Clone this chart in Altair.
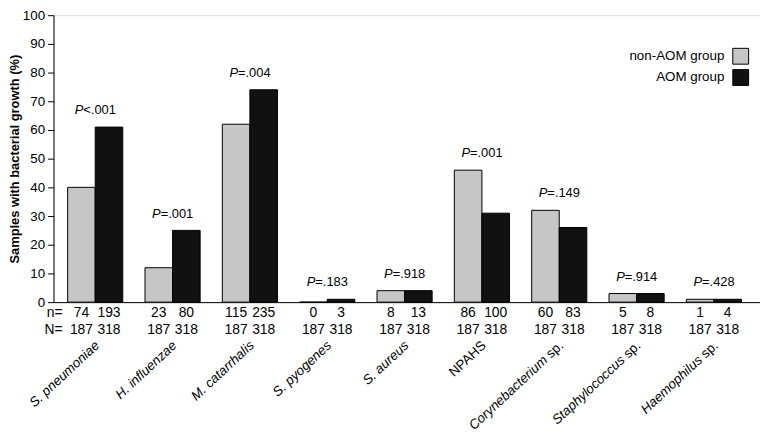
import altair as alt
import pandas as pd

# ---- data ----
main_labels = ["S. pneumoniae", "H. influenzae", "M. catarrhalis", "S. pyogenes",
               "S. aureus", "NPAHS", "Corynebacterium", "Staphylococcus", "Haemophilus"]
suffixes = ["", "", "", "", "", "", " sp.", " sp.", " sp."]
italic_main = [True, True, True, True, True, False, True, True, True]
groups = ["non-AOM group", "AOM group"]
pct_non_aom = [40, 12, 62, 0, 4, 46, 32, 3, 1]
pct_aom = [61, 25, 74, 1, 4, 31, 26, 3, 1]
n_non_aom = [74, 23, 115, 0, 8, 86, 60, 5, 1]
n_aom = [193, 80, 235, 3, 13, 100, 83, 8, 4]
N_non_aom = 187
N_aom = 318
p_values = ["<.001", "=.001", "=.004", "=.183", "=.918", "=.001", "=.149", "=.914", "=.428"]
y_ticks = list(range(0, 101, 10))
colors = ["#c6c6c6", "#111111"]

categories = [m + s for m, s in zip(main_labels, suffixes)]
FONT = "Liberation Sans"

rows = []
for i, c in enumerate(categories):
    rows.append({"cat": c, "group": groups[0], "value": pct_non_aom[i], "n": n_non_aom[i], "N": N_non_aom})
    rows.append({"cat": c, "group": groups[1], "value": pct_aom[i], "n": n_aom[i], "N": N_aom})
bars_df = pd.DataFrame(rows)

p_df = pd.DataFrame({"cat": categories,
                     "top": [max(a, b) for a, b in zip(pct_non_aom, pct_aom)],
                     "pv": p_values})

lab_df = pd.DataFrame({"cat": categories, "main": main_labels,
                       "suffix": [s.strip() for s in suffixes], "italic": italic_main})
lab_it_full = lab_df[(lab_df["suffix"] == "") & (lab_df["italic"])]
lab_plain_full = lab_df[(lab_df["suffix"] == "") & (~lab_df["italic"])]
lab_genus = lab_df[lab_df["suffix"] != ""]

row_df = pd.DataFrame({"cat": [categories[0]], "group": [groups[0]]})

# ---- shared encodings ----
x_scale = alt.Scale(domain=categories, paddingInner=0.287, paddingOuter=0.211, align=0.433)
x_axis = alt.Axis(labels=False, ticks=False, title=None, domainColor="black", domainWidth=1)
X = alt.X("cat:N", sort=categories, scale=x_scale, axis=x_axis)
XO = alt.XOffset("group:N", sort=groups, scale=alt.Scale(domain=groups, paddingInner=0, paddingOuter=0))
y_scale = alt.Scale(domain=[0, 100], nice=False)
y_axis = alt.Axis(values=y_ticks, title="Samples with bacterial growth (%)", grid=False,
                  tickSize=6, labelPadding=3, titlePadding=1, labelFontSize=13.5,
                  titleFontSize=13, titleFontWeight="bold", domainColor="black",
                  tickColor="black", labelColor="black", titleColor="black")

bars = alt.Chart(bars_df).mark_bar(stroke="black", strokeWidth=1).encode(
    x=X, xOffset=XO,
    y=alt.Y("value:Q", scale=y_scale, axis=y_axis),
    color=alt.Color("group:N", sort=groups,
                    scale=alt.Scale(domain=groups, range=colors),
                    legend=alt.Legend(title=None, orient="none", legendX=686, legendY=33,
                                      symbolType="square", symbolSize=256,
                                      symbolStrokeColor="black", symbolStrokeWidth=1,
                                      labelFontSize=13.5, labelColor="black", labelFont=FONT,
                                      labelAlign="right", labelOffset=alt.ExprRef("-25"),
                                      rowPadding=0.5)),
)

n_text = alt.Chart(bars_df).mark_text(fontSize=14, font=FONT, color="black", baseline="middle").encode(
    x=X, xOffset=XO, y=alt.value(301.5), text="n:Q")
N_text = alt.Chart(bars_df).mark_text(fontSize=14, font=FONT, color="black", baseline="middle").encode(
    x=X, xOffset=XO, y=alt.value(318.5), text="N:Q")

n_lab = alt.Chart(row_df).mark_text(fontSize=14, font=FONT, color="black", baseline="middle",
                                    align="right", dx=-19).encode(
    x=X, xOffset=XO, y=alt.value(301.5), text=alt.value("n="))
N_lab = alt.Chart(row_df).mark_text(fontSize=14, font=FONT, color="black", baseline="middle",
                                    align="right", dx=-19).encode(
    x=X, xOffset=XO, y=alt.value(318.5), text=alt.value("N="))

p_it = alt.Chart(p_df).mark_text(fontSize=13, font=FONT, fontStyle="italic", color="black",
                                 baseline="middle", align="right", dx=-12, dy=-17).encode(
    x=X, y=alt.Y("top:Q", scale=y_scale, axis=y_axis), text=alt.value("P"))
p_rest = alt.Chart(p_df).mark_text(fontSize=13, font=FONT, color="black",
                                   baseline="middle", align="left", dx=-12, dy=-17).encode(
    x=X, y=alt.Y("top:Q", scale=y_scale, axis=y_axis), text="pv:N")

lab_kw = dict(angle=317, align="right", baseline="middle", fontSize=13.5, font=FONT, color="black")
l1 = alt.Chart(lab_it_full).mark_text(fontStyle="italic", dx=3, **lab_kw).encode(
    x=X, y=alt.value(334), text="main:N")
l2 = alt.Chart(lab_plain_full).mark_text(dx=3, **lab_kw).encode(
    x=X, y=alt.value(334), text="main:N")
l3 = alt.Chart(lab_genus).mark_text(fontStyle="italic", dx=-18.8, **lab_kw).encode(
    x=X, y=alt.value(334), text="main:N")
l4 = alt.Chart(lab_genus).mark_text(dx=3, **lab_kw).encode(
    x=X, y=alt.value(334), text="suffix:N")

chart = alt.layer(bars, n_text, N_text, n_lab, N_lab, p_it, p_rest, l1, l2, l3, l4).properties(
    width=714, height=290,
    autosize=alt.AutoSizeParams(type="none"),
    padding={"left": 46, "top": 5, "right": 0, "bottom": 131},
    background="white",
).configure_view(stroke=None).configure(font=FONT).configure_axis(labelFont=FONT, titleFont=FONT)

chart.save("out.html", embed_options={"renderer": "svg", "actions": False})
